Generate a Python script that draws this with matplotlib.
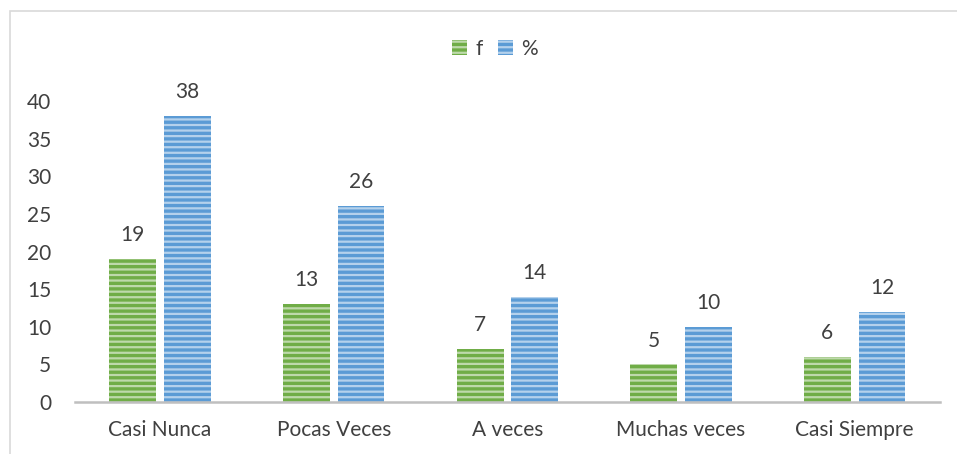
import matplotlib.pyplot as plt
from matplotlib.patches import Rectangle
import numpy as np

categories = ["Casi Nunca", "Pocas Veces", "A veces", "Muchas veces", "Casi Siempre"]
f_values = [19, 13, 7, 5, 6]
pct_values = [38, 26, 14, 10, 12]

plt.rcParams["font.family"] = ["Lato", "DejaVu Sans"]
plt.rcParams["hatch.linewidth"] = 1.6

fig = plt.figure(figsize=(9.57, 4.54), dpi=100)
ax = fig.add_axes([0.0784, 0.1145, 0.9036, 0.663])

x = np.arange(len(categories))
w = 0.27
off = 0.157
b1 = ax.bar(x - off, f_values, w, color="#70AD47", edgecolor=(1, 1, 1, 0.55),
            linewidth=0, hatch="---", label="f")
b2 = ax.bar(x + off, pct_values, w, color="#5B9BD5", edgecolor=(1, 1, 1, 0.55),
            linewidth=0, hatch="---", label="%")

for bars, vals in ((b1, f_values), (b2, pct_values)):
    for r, v in zip(bars, vals):
        ax.annotate(str(v), (r.get_x() + r.get_width() / 2, v), xytext=(0, 10),
                    textcoords="offset points", ha="center", va="bottom",
                    fontsize=15, color="#404040", annotation_clip=False)

ax.set_xlim(-0.49, 4.49)
ax.set_ylim(0, 40)
ax.set_yticks(range(0, 41, 5))
ax.set_xticks(x)
ax.set_xticklabels(categories)
ax.tick_params(axis="both", length=0, labelsize=15, labelcolor="#404040")
ax.tick_params(axis="x", pad=13)
ax.tick_params(axis="y", pad=17)
for s in ("top", "right", "left"):
    ax.spines[s].set_visible(False)
ax.spines["bottom"].set_color("#BFBFBF")
ax.spines["bottom"].set_linewidth(1.8)

fig.legend(loc="center", bbox_to_anchor=(495 / 957, 1 - 49 / 454), ncol=2,
           frameon=False, fontsize=15, handlelength=0.75, handleheight=0.75,
           handletextpad=0.4, columnspacing=0.7, labelcolor="#404040")

fig.patches.append(Rectangle((10 / 957, -0.1), 1.2, 1.1 - 11 / 454,
                             transform=fig.transFigure, fill=False,
                             edgecolor="#D9D9D9", linewidth=1.2))

fig.savefig("out.png", dpi=100)
